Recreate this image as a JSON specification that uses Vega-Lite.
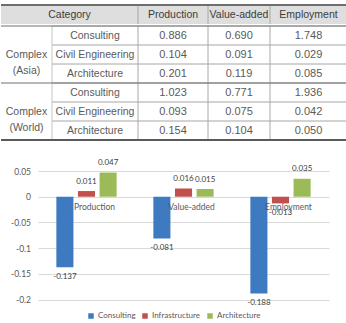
{
  "$schema": "https://vega.github.io/schema/vega-lite/v6.json",
  "padding": {"top": 4, "left": 0, "right": 0, "bottom": 0},
  "background": "white",
  "config": {
    "view": {"stroke": null},
    "text": {"font": "Liberation Sans"}
  },
  "datasets": {
    "columns": [
      {"col": "Category"},
      {"col": "Production"},
      {"col": "Value-added"},
      {"col": "Employment"}
    ],
    "table": [
      {"group": "Complex (Asia)", "sector": "Consulting", "metric": "Production", "value": 0.886},
      {"group": "Complex (Asia)", "sector": "Consulting", "metric": "Value-added", "value": 0.690},
      {"group": "Complex (Asia)", "sector": "Consulting", "metric": "Employment", "value": 1.748},
      {"group": "Complex (Asia)", "sector": "Civil Engineering", "metric": "Production", "value": 0.104},
      {"group": "Complex (Asia)", "sector": "Civil Engineering", "metric": "Value-added", "value": 0.091},
      {"group": "Complex (Asia)", "sector": "Civil Engineering", "metric": "Employment", "value": 0.029},
      {"group": "Complex (Asia)", "sector": "Architecture", "metric": "Production", "value": 0.201},
      {"group": "Complex (Asia)", "sector": "Architecture", "metric": "Value-added", "value": 0.119},
      {"group": "Complex (Asia)", "sector": "Architecture", "metric": "Employment", "value": 0.085},
      {"group": "Complex (World)", "sector": "Consulting", "metric": "Production", "value": 1.023},
      {"group": "Complex (World)", "sector": "Consulting", "metric": "Value-added", "value": 0.771},
      {"group": "Complex (World)", "sector": "Consulting", "metric": "Employment", "value": 1.936},
      {"group": "Complex (World)", "sector": "Civil Engineering", "metric": "Production", "value": 0.093},
      {"group": "Complex (World)", "sector": "Civil Engineering", "metric": "Value-added", "value": 0.075},
      {"group": "Complex (World)", "sector": "Civil Engineering", "metric": "Employment", "value": 0.042},
      {"group": "Complex (World)", "sector": "Architecture", "metric": "Production", "value": 0.154},
      {"group": "Complex (World)", "sector": "Architecture", "metric": "Value-added", "value": 0.104},
      {"group": "Complex (World)", "sector": "Architecture", "metric": "Employment", "value": 0.050}
    ],
    "impact": [
      {"metric": "Production", "series": "Consulting", "value": -0.137},
      {"metric": "Production", "series": "Infrastructure", "value": 0.011},
      {"metric": "Production", "series": "Architecture", "value": 0.047},
      {"metric": "Value-added", "series": "Consulting", "value": -0.081},
      {"metric": "Value-added", "series": "Infrastructure", "value": 0.016},
      {"metric": "Value-added", "series": "Architecture", "value": 0.015},
      {"metric": "Employment", "series": "Consulting", "value": -0.188},
      {"metric": "Employment", "series": "Infrastructure", "value": -0.013},
      {"metric": "Employment", "series": "Architecture", "value": 0.035}
    ]
  },
  "spacing": 18,
  "vconcat": [
    {
      "spacing": 0,
      "vconcat": [
        {
          "width": 291,
          "height": 19,
          "data": {"name": "columns"},
          "transform": [
            {"calculate": "indexof(['Category', 'Production', 'Value-added', 'Employment'], datum.col)", "as": "slot"},
            {"calculate": "datum.slot + 0.5", "as": "slotMid"}
          ],
          "layer": [
            {
              "transform": [{"filter": "datum.col === 'Category'"}],
              "mark": {"type": "rect", "color": "#dedede"},
              "encoding": {
                "x": {"datum": 0, "axis": null,
                  "scale": {"domain": [0, 1, 2, 3, 4], "range": [-37, 100, 170, 232, 309], "nice": false, "zero": false}},
                "x2": {"datum": 4}
              }
            },
            {
              "transform": [{"filter": "datum.col !== 'Category'"}],
              "mark": {"type": "rule", "color": "#a8a8a8", "strokeWidth": 1},
              "encoding": {
                "x": {"field": "slot", "type": "quantitative", "axis": null}
              }
            },
            {
              "transform": [{"filter": "datum.col === 'Category'"}],
              "mark": {"type": "rule", "color": "#6e6e6e", "strokeWidth": 2},
              "encoding": {
                "x": {"datum": 0, "axis": null},
                "x2": {"datum": 4},
                "y": {"value": 0}
              }
            },
            {
              "mark": {"type": "text", "fontSize": 10.5, "color": "#3c3c3c", "baseline": "middle"},
              "encoding": {
                "x": {"field": "slotMid", "type": "quantitative", "axis": null},
                "text": {"field": "col"}
              }
            }
          ]
        },
        {
          "width": 291,
          "height": 114,
          "data": {"name": "table"},
          "transform": [
            {"calculate": "indexof(['Complex', 'Sector', 'Production', 'Value-added', 'Employment'], datum.metric)", "as": "slot"},
            {"calculate": "datum.slot + 0.5", "as": "slotMid"}
          ],
          "layer": [
            {
              "transform": [{"filter": "datum.metric === 'Production'"}],
              "mark": {"type": "rect", "fill": "white", "fillOpacity": 0, "stroke": "#c4c4c4", "strokeWidth": 1},
              "encoding": {
                "x": {"datum": 1, "axis": null,
                  "scale": {"domain": [0, 1, 2, 3, 4, 5], "range": [-37, 14, 100, 170, 232, 309], "nice": false, "zero": false}},
                "x2": {"datum": 5},
                "y": {"field": "group", "type": "nominal", "axis": null,
                  "scale": {"domain": ["Complex (Asia)", "Complex (World)"], "paddingInner": 0, "paddingOuter": 0}},
                "yOffset": {"field": "sector", "type": "nominal",
                  "scale": {"domain": ["Consulting", "Civil Engineering", "Architecture"], "paddingInner": 0, "paddingOuter": 0}}
              }
            },
            {
              "transform": [{"filter": "datum.group === 'Complex (Asia)' && datum.sector === 'Consulting'"}],
              "mark": {"type": "rule", "color": "#a8a8a8", "strokeWidth": 1},
              "encoding": {
                "x": {"field": "slot", "type": "quantitative", "axis": null}
              }
            },
            {
              "transform": [{"filter": "datum.metric === 'Production' && datum.sector === 'Consulting'"}],
              "mark": {"type": "rule", "color": "#707070", "strokeWidth": 1},
              "encoding": {
                "y": {"field": "group", "type": "nominal", "bandPosition": 0, "axis": null},
                "x": {"datum": 0, "axis": null},
                "x2": {"datum": 5}
              }
            },
            {
              "transform": [{"filter": "datum.metric === 'Production' && datum.sector === 'Consulting' && datum.group === 'Complex (World)'"}],
              "mark": {"type": "rule", "color": "#5a5a5a", "strokeWidth": 2},
              "encoding": {
                "y": {"field": "group", "type": "nominal", "bandPosition": 1, "axis": null},
                "x": {"datum": 0, "axis": null},
                "x2": {"datum": 5}
              }
            },
            {
              "mark": {"type": "text", "fontSize": 11, "color": "#5a5a5a", "baseline": "middle"},
              "encoding": {
                "x": {"field": "slotMid", "type": "quantitative", "axis": null},
                "y": {"field": "group", "type": "nominal", "axis": null},
                "yOffset": {"field": "sector", "type": "nominal"},
                "text": {"field": "value", "type": "quantitative", "format": ".3f"}
              }
            },
            {
              "transform": [{"filter": "datum.metric === 'Production'"}],
              "mark": {"type": "text", "fontSize": 10.5, "color": "#5a5a5a", "baseline": "middle"},
              "encoding": {
                "x": {"datum": 1.5, "axis": null},
                "y": {"field": "group", "type": "nominal", "axis": null},
                "yOffset": {"field": "sector", "type": "nominal"},
                "text": {"field": "sector"}
              }
            },
            {
              "transform": [{"filter": "datum.metric === 'Production' && datum.sector === 'Consulting'"}],
              "mark": {"type": "text", "fontSize": 10.5, "color": "#5a5a5a", "baseline": "middle", "lineBreak": " ", "lineHeight": 16},
              "encoding": {
                "x": {"datum": 0.5, "axis": null},
                "y": {"field": "group", "type": "nominal", "axis": null},
                "text": {"field": "group"}
              }
            }
          ]
        }
      ]
    },
    {
      "width": 291,
      "height": 128.6,
      "data": {"name": "impact"},
      "encoding": {
        "x": {"field": "metric", "type": "nominal", "sort": ["Production", "Value-added", "Employment"],
          "scale": {"paddingInner": 0, "paddingOuter": 0}, "axis": null}
      },
      "layer": [
        {
          "mark": {"type": "bar"},
          "encoding": {
            "xOffset": {"field": "series", "type": "nominal", "sort": ["Consulting", "Infrastructure", "Architecture"],
              "scale": {"paddingInner": 0.21, "paddingOuter": 0.85}},
            "y": {"field": "value", "type": "quantitative",
              "scale": {"domain": [-0.2, 0.05], "nice": false},
              "axis": {
                "values": [0.05, 0, -0.05, -0.1, -0.15, -0.2], "tickCount": 12, "format": "~g",
                "title": null, "domain": false, "ticks": false, "tickSize": 0,
                "labelPadding": 7.5, "labelOverlap": false, "grid": true, "gridColor": "#d9d9d9",
                "labelFont": "Lato", "labelFontSize": 8.5, "labelColor": "#595959",
                "labelExpr": "replace(datum.label, '\u2212', '-')",
                "minExtent": 37, "maxExtent": 37
              }},
            "color": {"field": "series", "type": "nominal", "sort": ["Consulting", "Infrastructure", "Architecture"],
              "scale": {"domain": ["Consulting", "Infrastructure", "Architecture"], "range": ["#3e7ac0", "#c0504d", "#9bbb59"]},
              "legend": {
                "orient": "none", "legendX": 49, "legendY": 307, "direction": "horizontal",
                "title": null, "symbolType": "square", "symbolSize": 30, "symbolStrokeWidth": 0,
                "labelFont": "Lato", "labelFontSize": 8, "labelColor": "#595959",
                "columnPadding": 5, "labelOffset": 3
              }}
          }
        },
        {
          "transform": [{"filter": "datum.value >= 0"}],
          "mark": {"type": "text", "font": "Lato", "fontSize": 8, "color": "#404040", "baseline": "middle", "dy": -9.5},
          "encoding": {
            "xOffset": {"field": "series", "type": "nominal", "sort": ["Consulting", "Infrastructure", "Architecture"]},
            "y": {"field": "value", "type": "quantitative"},
            "text": {"field": "value", "type": "nominal"}
          }
        },
        {
          "transform": [{"filter": "datum.value < 0"}],
          "mark": {"type": "text", "font": "Lato", "fontSize": 8, "color": "#404040", "baseline": "middle", "dy": 9.5},
          "encoding": {
            "xOffset": {"field": "series", "type": "nominal", "sort": ["Consulting", "Infrastructure", "Architecture"]},
            "y": {"field": "value", "type": "quantitative"},
            "text": {"field": "value", "type": "nominal"}
          }
        },
        {
          "transform": [{"filter": "datum.series === 'Consulting'"}],
          "mark": {"type": "text", "font": "Lato", "fontSize": 8.5, "color": "#595959", "baseline": "middle", "dx": 8, "dy": 10.5},
          "encoding": {
            "y": {"datum": 0},
            "text": {"field": "metric"}
          }
        }
      ]
    }
  ]
}
